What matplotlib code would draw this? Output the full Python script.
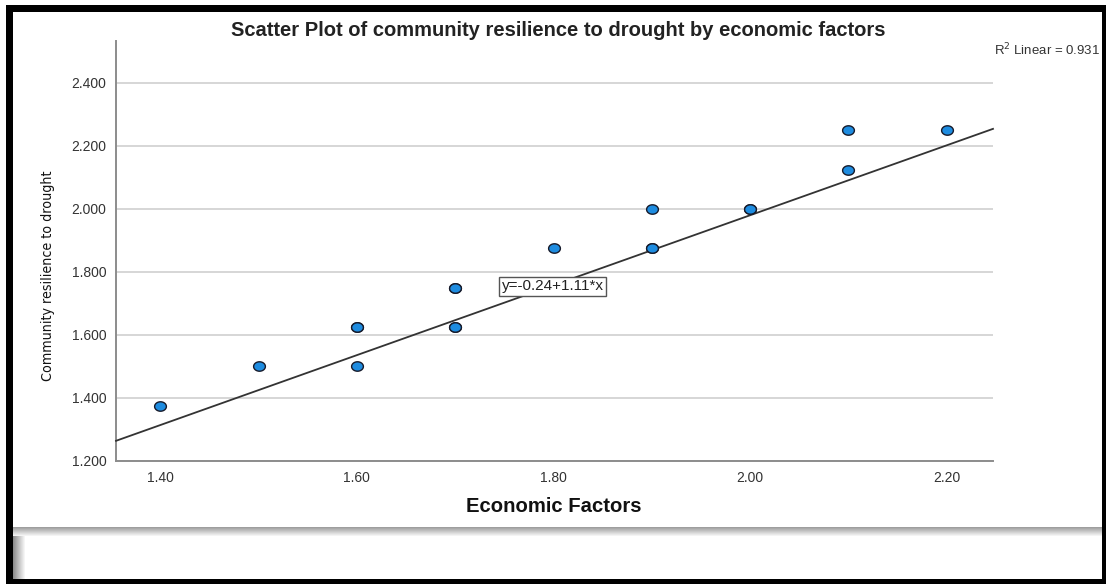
import numpy as np
import matplotlib
matplotlib.use("Agg")
import matplotlib.pyplot as plt
from matplotlib.patches import Rectangle
from matplotlib.path import Path

# Observations: economic factors score vs. community resilience to drought
economic_factors = [1.40, 1.50, 1.60, 1.60, 1.60, 1.70, 1.70, 1.70, 1.70,
                    1.80, 1.90, 1.90, 1.90, 2.00, 2.00, 2.10, 2.10, 2.20]
resilience = [1.375, 1.500, 1.625, 1.625, 1.500, 1.750, 1.750, 1.625, 1.625,
              1.875, 2.000, 1.875, 1.875, 2.000, 2.000, 2.250, 2.125, 2.250]

# Fitted linear model reported on the chart
intercept = -0.24
slope = 1.11
r_squared = 0.931

x_ticks = [1.40, 1.60, 1.80, 2.00, 2.20]
y_ticks = [1.200, 1.400, 1.600, 1.800, 2.000, 2.200, 2.400]

W, H = 1106, 584
fig = plt.figure(figsize=(W / 100, H / 100), dpi=100)
fig.patch.set_facecolor("white")


def px_rect(x0, y0, x1, y1, **kw):
    """Rectangle given in top-left-origin pixel coordinates."""
    r = Rectangle((x0 / W, 1 - y1 / H), (x1 - x0) / W, (y1 - y0) / H,
                  transform=fig.transFigure, **kw)
    fig.patches.append(r)
    return r


# Outer black frame and white page
px_rect(6, 5, 1106, 584, facecolor="black", edgecolor="none", zorder=-3)
px_rect(13, 12, 1102, 579, facecolor="white", edgecolor="none", zorder=-2)

# Shadow band under the chart panel
band_top, band_h = 527, 9
for i in range(band_h):
    g = 0.62 + 0.38 * (i / band_h)
    px_rect(13, band_top + i, 1102, band_top + i + 1,
            facecolor=(g, g, g), edgecolor="none", zorder=-1)
# Left shadow of the lower panel
for i in range(12):
    g = 0.55 + 0.45 * (i / 12)
    px_rect(13 + i, band_top + band_h, 14 + i, 579,
            facecolor=(g, g, g), edgecolor="none", zorder=-1)

# Plot area
ax = fig.add_axes([116 / W, 1 - 461 / H, (993 - 116) / W, (461 - 41) / H])
ax.set_facecolor("none")
ax.set_xlim(1.355, 2.247)
ax.set_ylim(1.200, 2.533)

ax.set_yticks(y_ticks)
ax.set_yticklabels([f"{v:.3f}" for v in y_ticks])
ax.set_xticks(x_ticks)
ax.set_xticklabels([f"{v:.2f}" for v in x_ticks])
ax.tick_params(length=0, labelsize=10, labelcolor="#333333", pad=7)
for lbl in ax.get_xticklabels() + ax.get_yticklabels():
    lbl.set_family("Liberation Sans")

ax.grid(axis="y", color="#d6d6d6", linewidth=1.4)
ax.set_axisbelow(True)
for side in ("top", "right"):
    ax.spines[side].set_visible(False)
for side in ("left", "bottom"):
    ax.spines[side].set_color("#8c8c8c")
    ax.spines[side].set_linewidth(1.4)

# Fit line across the full horizontal range
xl = np.array(ax.get_xlim())
ax.plot(xl, intercept + slope * xl, color="#333333", linewidth=1.3,
        zorder=3, clip_on=False)

# Slightly wide elliptical markers
theta = np.linspace(0, 2 * np.pi, 41)
ellipse = Path(np.column_stack([np.cos(theta), 0.8 * np.sin(theta)]), closed=True)
ax.scatter(economic_factors, resilience, marker=ellipse, s=72,
           facecolor="#1e8ce0", edgecolor="#161a2a", linewidth=1.0, zorder=4)

# Fit equation label
ax.text(1.799, 1.754, f"y={intercept:.2f}+{slope:.2f}*x",
        ha="center", va="center", fontsize=11, family="Liberation Sans",
        color="#222222", zorder=5,
        bbox=dict(boxstyle="square,pad=0.15", facecolor="white",
                  edgecolor="#555555", linewidth=1.0))

# Titles and labels
fig.text(558 / W, 1 - 30 / H,
         "Scatter Plot of community resilience to drought by economic factors",
         ha="center", va="center", fontsize=14.5, fontweight="bold",
         family="Liberation Sans", color="#222222")
fig.text(1100 / W, 1 - 50 / H, f"R$^2$ Linear = {r_squared:.3f}",
         ha="right", va="center", fontsize=9.5, family="Liberation Sans",
         color="#333333")
fig.text(554 / W, 1 - 507 / H, "Economic Factors",
         ha="center", va="center", fontsize=14.6, fontweight="bold",
         family="Liberation Sans", color="#111111")
fig.text(48 / W, 1 - 276 / H, "Community resilience to drought",
         ha="center", va="center", rotation=90, fontsize=10.2,
         family="DejaVu Sans", fontstretch="condensed", color="#111111")

fig.savefig("out.png", dpi=100)
